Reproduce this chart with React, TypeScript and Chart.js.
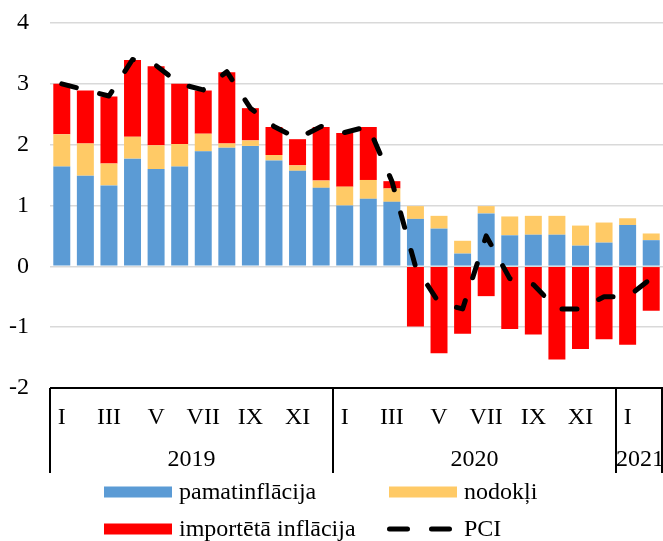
import React, { useEffect, useRef } from "react";
import { Chart, registerables } from "chart.js";

Chart.register(...registerables);

const monthLabels = [
  "I", "II", "III", "IV", "V", "VI", "VII", "VIII", "IX", "X", "XI", "XII",
  "I", "II", "III", "IV", "V", "VI", "VII", "VIII", "IX", "X", "XI", "XII",
  "I", "II",
];
const yearLabels = ["2019", "2020", "2021"];
const yearSpans = [12, 12, 2];

const pamatinflacija = [
  1.64, 1.49, 1.33, 1.77, 1.6, 1.64, 1.89, 1.95, 1.98, 1.74, 1.57, 1.29,
  1.0, 1.11, 1.06, 0.78, 0.62, 0.21, 0.87, 0.51, 0.52, 0.52, 0.34, 0.39,
  0.68, 0.43,
];
const nodokli = [
  0.53, 0.53, 0.36, 0.36, 0.39, 0.37, 0.29, 0.07, 0.09, 0.09, 0.09, 0.12,
  0.31, 0.31, 0.22, 0.21, 0.21, 0.21, 0.12, 0.31, 0.31, 0.31, 0.33, 0.33,
  0.11, 0.11,
];
const importetaInflacija = [
  0.83, 0.87, 1.1, 1.26, 1.3, 0.99, 0.71, 1.17, 0.53, 0.46, 0.43, 0.88,
  0.88, 0.87, 0.12, -0.99, -1.43, -1.11, -0.49, -1.03, -1.12, -1.53, -1.36, -1.2,
  -1.29, -0.73,
];
const pci = [
  3.0, 2.9, 2.8, 3.4, 3.3, 3.0, 2.9, 3.2, 2.6, 2.3, 2.1, 2.3,
  2.2, 2.3, 1.4, 0.0, -0.6, -0.7, 0.5, -0.2, -0.3, -0.7, -0.7, -0.5,
  -0.5, -0.2,
];
const yTicks = { min: -2, max: 4, step: 1 };

const BLUE = "#5B9BD5";
const YELLOW = "#FFCA66";
const RED = "#FF0000";
const FONT = "'Times New Roman', 'Liberation Serif', serif";

const legendItems = [
  { label: "pamatinflācija", color: BLUE, kind: "box", col: 0, row: 0 },
  { label: "nodokļi", color: YELLOW, kind: "box", col: 1, row: 0 },
  { label: "importētā inflācija", color: RED, kind: "box", col: 0, row: 1 },
  { label: "PCI", color: "#000000", kind: "dash", col: 1, row: 1 },
];

const decorPlugin = {
  id: "decor",
  afterDraw(chart: any) {
    const { ctx, chartArea, scales } = chart;
    const x = scales.x;
    const bottom = chartArea.bottom;
    ctx.save();
    const n = monthLabels.length;
    const boundary = (i: number) => {
      if (i <= 0) return chartArea.left;
      if (i >= n) return chartArea.right - 1;
      return (x.getPixelForValue(i - 1) + x.getPixelForValue(i)) / 2;
    };
    ctx.strokeStyle = "#000";
    ctx.lineWidth = 2;
    let idx = 0;
    const bounds = [0];
    yearSpans.forEach((s) => {
      idx += s;
      bounds.push(idx);
    });
    bounds.forEach((b) => {
      const bx = Math.round(boundary(b));
      ctx.beginPath();
      ctx.moveTo(bx, bottom);
      ctx.lineTo(bx, bottom + 85);
      ctx.stroke();
    });
    ctx.fillStyle = "#000";
    ctx.font = `24px ${FONT}`;
    ctx.textAlign = "center";
    ctx.textBaseline = "middle";
    monthLabels.forEach((m, i) => {
      if (i % 2 === 0) {
        ctx.fillText(m, x.getPixelForValue(i), bottom + 30);
      }
    });
    for (let k = 0; k < yearLabels.length; k++) {
      const l = boundary(bounds[k]);
      const r = boundary(bounds[k + 1]);
      ctx.fillText(yearLabels[k], (l + r) / 2 + (k === 2 ? 1 : 0), bottom + 72);
    }
    const colX = [104, 389];
    const rowY = [492, 529];
    legendItems.forEach((it) => {
      const lx = colX[it.col];
      const ly = rowY[it.row];
      if (it.kind === "box") {
        ctx.fillStyle = it.color;
        ctx.fillRect(lx, ly - 5.5, 68, 11);
      } else {
        ctx.strokeStyle = it.color;
        ctx.lineWidth = 5;
        ctx.lineCap = "round";
        ctx.setLineDash([18, 24]);
        ctx.beginPath();
        ctx.moveTo(lx + 0.5, ly);
        ctx.lineTo(lx + 61, ly);
        ctx.stroke();
        ctx.setLineDash([]);
      }
      ctx.fillStyle = "#000";
      ctx.textAlign = "left";
      ctx.fillText(it.label, lx + 75, ly + 1);
    });
    ctx.restore();
  },
};

export default function App() {
  const ref = useRef<HTMLCanvasElement | null>(null);
  useEffect(() => {
    if (!ref.current) return;
    Chart.defaults.font.family = FONT;
    const chart = new Chart(ref.current, {
      type: "bar",
      data: {
        labels: monthLabels,
        datasets: [
          {
            type: "line",
            label: "PCI",
            data: pci,
            borderColor: "#000",
            borderWidth: 5,
            borderDash: [15, 24],
            borderCapStyle: "round",
            borderJoinStyle: "round",
            pointRadius: 0,
            tension: 0,
            fill: false,
            stack: "pci",
            order: 0,
          } as any,
          {
            label: "pamatinflācija",
            data: pamatinflacija,
            backgroundColor: BLUE,
            stack: "a",
            order: 1,
          },
          {
            label: "nodokļi",
            data: nodokli,
            backgroundColor: YELLOW,
            stack: "a",
            order: 1,
          },
          {
            label: "importētā inflācija",
            data: importetaInflacija,
            backgroundColor: RED,
            stack: "a",
            order: 1,
          },
        ],
      },
      options: {
        animation: false,
        responsive: false,
        devicePixelRatio: 1,
        layout: { padding: { top: 23, left: 0, right: 0, bottom: 68 } },
        datasets: {
          bar: { categoryPercentage: 1, barPercentage: 0.72, borderWidth: 0 },
        },
        plugins: {
          legend: { display: false },
          tooltip: { enabled: false },
        },
        scales: {
          x: {
            stacked: true,
            display: true,
            ticks: { display: false },
            grid: { display: false },
            border: { display: false },
            afterFit: (s: any) => {
              s.height = 85;
            },
          },
          y: {
            stacked: true,
            min: yTicks.min,
            max: yTicks.max,
            ticks: {
              stepSize: yTicks.step,
              color: "#000",
              font: { size: 24, family: FONT },
              padding: 0,
            },
            grid: {
              drawTicks: true,
              tickLength: 21,
              tickColor: "rgba(0,0,0,0)",
              color: (c: any) => (c.tick && c.tick.value === -2 ? "#000" : "#d9d9d9"),
              lineWidth: (c: any) => (c.tick && c.tick.value === -2 ? 2 : 1.5),
            },
            border: { display: false },
            afterFit: (s: any) => {
              s.width = 50;
            },
          },
        },
      },
      plugins: [decorPlugin],
    });
    return () => chart.destroy();
  }, []);
  return (
    <div style={{ position: "absolute", left: 0, top: 0, width: 663, height: 541 }}>
      <canvas ref={ref} width={663} height={541} style={{ display: "block" }} />
    </div>
  );
}
